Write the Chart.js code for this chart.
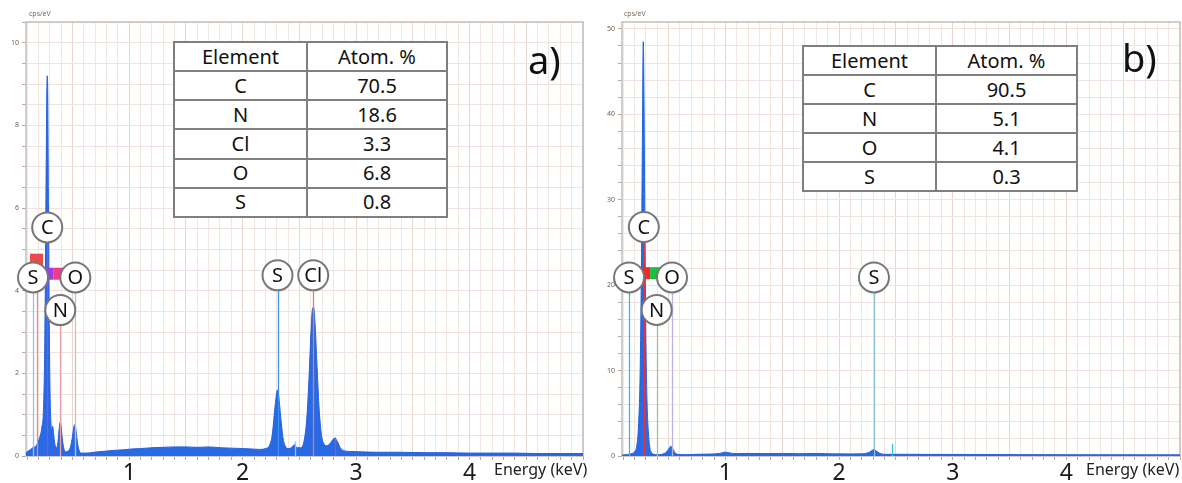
<html>

<head>
  <title>EDS spectra</title>
  <style>
    body { margin: 0; background: #fff; width: 1182px; height: 483px; position: relative; overflow: hidden; font-family: "Noto Sans", "Open Sans", sans-serif; }
    .panel { position: absolute; top: 0; height: 483px; }
    .unit { position: absolute; font-size: 7px; color: #7a6858; }
    .etitle { position: absolute; font-size: 16px; color: #222; white-space: nowrap; }
    .tag { position: absolute; font-size: 38px; line-height: 1; color: #111; }
    table.comp { position: absolute; border-collapse: collapse; background: #fff; font-size: 20px; color: #111; }
    table.comp td { border: 2.5px solid #7f7f7f; text-align: center; padding: 0; line-height: 24px; }
  </style>
</head>

<body>
  <div class="panel" style="left:0;width:590px"><canvas id="chart-a"></canvas></div>
  <div class="panel" style="left:590px;width:592px"><canvas id="chart-b"></canvas></div>

  <div class="unit" style="left:29px;top:9px">cps/eV</div>
  <div class="unit" style="left:624px;top:9px">cps/eV</div>
  <div class="etitle" style="left:494px;top:458px">Energy (keV)</div>
  <div class="etitle" style="left:1086px;top:458px">Energy (keV)</div>
  <div class="tag" style="left:528px;top:40px">a)</div>
  <div class="tag" style="left:1122px;top:38px">b)</div>
  <table class="comp" id="table-a" style="left:173px;top:41px;width:275px;height:177px"></table>
  <table class="comp" id="table-b" style="left:802px;top:45px;width:276px;height:147px"></table>

  <script src="https://cdn.jsdelivr.net/npm/chart.js"></script>
  <script>
    // ---- data (a) ----
    const energyA = [0.09, 0.11, 0.13, 0.15, 0.17, 0.19, 0.21, 0.23, 0.245, 0.255, 0.265, 0.272, 0.277, 0.282, 0.288, 0.295,
      0.303, 0.31, 0.318, 0.325, 0.333, 0.345, 0.36, 0.372, 0.383, 0.392, 0.4, 0.41, 0.422, 0.44, 0.46, 0.48, 0.5, 0.512,
      0.522, 0.532, 0.545, 0.56, 0.58, 0.62, 0.66, 0.72, 0.8, 0.88, 0.95, 1.02, 1.1, 1.2, 1.3, 1.4, 1.5, 1.6, 1.7, 1.8,
      1.9, 2.0, 2.08, 2.15, 2.2, 2.235, 2.26, 2.28, 2.298, 2.307, 2.318, 2.335, 2.355, 2.375, 2.4, 2.43, 2.455, 2.48,
      2.51, 2.54, 2.565, 2.585, 2.602, 2.615, 2.625, 2.638, 2.655, 2.675, 2.695, 2.715, 2.74, 2.77, 2.795, 2.815, 2.835,
      2.86, 2.89, 2.95, 3.05, 3.2, 3.4, 3.6, 3.8, 4.0, 4.2, 4.4, 4.6, 4.8, 5.0];
    const countsA = [0.08, 0.12, 0.16, 0.2, 0.22, 0.3, 0.45, 0.7, 1.2, 2.6, 5.8, 8.4, 9.2, 8.7, 6.0, 3.2,
      1.4, 0.8, 0.62, 0.72, 0.55, 0.28, 0.2, 0.35, 0.68, 0.82, 0.7, 0.42, 0.2, 0.1, 0.12, 0.2, 0.48, 0.7,
      0.76, 0.6, 0.3, 0.12, 0.07, 0.07, 0.08, 0.1, 0.12, 0.14, 0.15, 0.17, 0.18, 0.2, 0.21, 0.22, 0.22, 0.21, 0.22, 0.2,
      0.19, 0.18, 0.17, 0.16, 0.18, 0.25, 0.5, 1.05, 1.5, 1.6, 1.45, 0.95, 0.45, 0.24, 0.18, 0.2, 0.27, 0.2,
      0.2, 0.35, 0.9, 1.9, 3.0, 3.55, 3.6, 3.2, 2.2, 1.1, 0.5, 0.3, 0.25, 0.3, 0.4, 0.43, 0.35,
      0.2, 0.13, 0.11, 0.1, 0.09, 0.09, 0.08, 0.08, 0.07, 0.07, 0.07, 0.06, 0.06, 0.06];

    // ---- data (b) ----
    const energyB = [0.09, 0.12, 0.15, 0.18, 0.2, 0.22, 0.235, 0.25, 0.262, 0.27, 0.277, 0.284, 0.292, 0.3, 0.31, 0.322,
      0.335, 0.35, 0.37, 0.4, 0.44, 0.48, 0.505, 0.52, 0.535, 0.555, 0.58, 0.65, 0.75, 0.85, 0.95, 1.0, 1.04, 1.1, 1.2,
      1.35, 1.5, 1.65, 1.8, 1.95, 2.1, 2.2, 2.26, 2.29, 2.307, 2.325, 2.36, 2.42, 2.6, 2.8, 3.0, 3.3, 3.6, 4.0, 4.4, 4.7, 5.0];
    const countsB = [0.1, 0.15, 0.2, 0.3, 0.5, 1.2, 3.5, 10, 24, 38, 48.5, 41, 26, 14, 6.5, 2.8,
      1.0, 0.4, 0.2, 0.15, 0.2, 0.45, 0.9, 1.15, 0.9, 0.4, 0.2, 0.15, 0.2, 0.22, 0.3, 0.45, 0.35, 0.28, 0.3,
      0.28, 0.3, 0.27, 0.3, 0.25, 0.24, 0.25, 0.4, 0.65, 0.75, 0.6, 0.3, 0.2, 0.2, 0.18, 0.18, 0.17, 0.16, 0.15, 0.15, 0.14, 0.14];

    // axis ranges and tick labels
    const xTickLabels = [1, 2, 3, 4];
    const yLabelStepA = 2, yGridStepA = 0.5, yMaxA = 10.5;
    const yLabelStepB = 10, yGridStepB = 2, yMaxB = 50.8;

    // element lines: name ('' = line only), energy keV, height cps/eV (label or line top), tag height (null = none)
    const lineNamesA = ['S', '', 'C', 'N', 'O', 'S', '', 'Cl', ''];
    const lineEnergyA = [0.152, 0.183, 0.277, 0.392, 0.525, 2.307, 2.464, 2.622, 2.815];
    const lineHeightA = [4.32, 4.8, 5.53, 3.53, 4.32, 4.37, 0.35, 4.37, 0.45];
    const lineTagA = [null, 4.75, 4.41, 4.41, null, null, null, null, null];

    const lineNamesB = ['S', 'C', 'N', 'O', 'S', ''];
    const lineEnergyB = [0.152, 0.282, 0.395, 0.53, 2.307, 2.47];
    const lineHeightB = [20.9, 26.8, 17.1, 20.9, 20.9, 1.4];
    const lineTagB = [null, 21.4, 21.4, null, null, null];

    // composition tables
    const elementsA = ['C', 'N', 'Cl', 'O', 'S'];
    const atomPctA = ['70.5', '18.6', '3.3', '6.8', '0.8'];
    const elementsB = ['C', 'N', 'O', 'S'];
    const atomPctB = ['90.5', '5.1', '4.1', '0.3'];

    // styles
    const lineColorsA = ['#9cc0e4', '#f08a8a', '#8a50e0', '#eaa0ac', '#bccab4', '#3d90ea', '#8cc4ea', '#e67878', '#c0507a'];
    const tagColorsA = [null, '#f04848', '#9a3ee8', '#f03c8c', null, null, null, null, null];
    const lineColorsB = ['#22c2ea', '#e8303c', '#92c892', '#bab2e2', '#86c2d2', '#22c8ea'];
    const tagColorsB = [null, '#ee2a2a', '#18c03c', null, null, null];

    function fillTable(id, els, pcts) {
      const t = document.getElementById(id);
      let html = '<tr><td style="width:131px">Element</td><td>Atom. %</td></tr>';
      els.forEach((e, i) => { html += '<tr><td>' + e + '</td><td>' + pcts[i] + '</td></tr>'; });
      t.innerHTML = html;
    }
    fillTable('table-a', elementsA, atomPctA);
    fillTable('table-b', elementsB, atomPctB);

    function markerPlugin(names, energy, height, tags, colors, tagColors) {
      return {
        id: 'edsMarkers',
        beforeDatasetsDraw(chart) {
          const { ctx, chartArea: a } = chart;
          ctx.save();
          ctx.strokeStyle = '#c6bebb';
          ctx.lineWidth = 1.5;
          ctx.strokeRect(a.left, a.top, a.right - a.left, a.bottom - a.top);
          ctx.restore();
        },
        afterDatasetsDraw(chart) {
          const { ctx, chartArea: a } = chart;
          const x = chart.scales.x, y = chart.scales.y;
          ctx.save();
          ctx.beginPath();
          ctx.rect(a.left, a.top, a.right - a.left, a.bottom - a.top);
          ctx.clip();
          energy.forEach((e, i) => {
            const px = Math.round(x.getPixelForValue(e)) + 0.5;
            ctx.strokeStyle = colors[i];
            ctx.lineWidth = 1.3;
            ctx.beginPath();
            ctx.moveTo(px, y.getPixelForValue(height[i]));
            ctx.lineTo(px, y.getPixelForValue(0));
            ctx.stroke();
          });
          energy.forEach((e, i) => {
            if (tags[i] == null) return;
            const px = x.getPixelForValue(e), py = y.getPixelForValue(tags[i]);
            ctx.fillStyle = tagColors[i];
            ctx.fillRect(px - 6.5, py - 6, 13, 12);
          });
          ctx.restore();
          ctx.save();
          ctx.font = '20px "Noto Sans"';
          ctx.textAlign = 'center';
          ctx.textBaseline = 'middle';
          energy.forEach((e, i) => {
            if (!names[i]) return;
            const px = x.getPixelForValue(e), py = y.getPixelForValue(height[i]);
            ctx.beginPath();
            ctx.arc(px, py, 15, 0, Math.PI * 2);
            ctx.fillStyle = '#fff';
            ctx.fill();
            ctx.strokeStyle = '#777';
            ctx.lineWidth = 2;
            ctx.stroke();
            ctx.fillStyle = '#111';
            ctx.fillText(names[i], px, py + 1);
          });
          ctx.restore();
        }
      };
    }

    function makeChart(id, energy, counts, yMax, yGrid, yLabel, yWidth, padRight, plugin) {
      const pts = energy.map((e, i) => ({ x: e, y: counts[i] }));
      return new Chart(document.getElementById(id), {
        type: 'line',
        data: {
          datasets: [{
            data: pts,
            fill: 'origin',
            backgroundColor: 'rgb(40,106,230)',
            borderColor: 'rgb(34,98,222)',
            borderWidth: 1,
            pointRadius: 0,
            cubicInterpolationMode: 'monotone'
          }]
        },
        options: {
          responsive: true,
          maintainAspectRatio: false,
          animation: false,
          events: [],
          layout: { padding: { top: 22, right: padRight, left: 0, bottom: 0 } },
          plugins: { legend: { display: false }, tooltip: { enabled: false } },
          scales: {
            x: {
              type: 'linear',
              min: 0.09,
              max: 5.0,
              border: { display: false },
              ticks: {
                stepSize: 0.1,
                includeBounds: false,
                autoSkip: false,
                maxRotation: 0,
                padding: 0,
                color: '#1a1a1a',
                font: { size: 23, family: 'Noto Sans' },
                callback: (v) => {
                  const r = Math.round(v);
                  return (Math.abs(v - r) < 1e-6 && xTickLabels.includes(r)) ? String(r) : '';
                }
              },
              grid: {
                color: (c) => {
                  const v = c.tick ? c.tick.value : 0;
                  return Math.abs(v * 2 - Math.round(v * 2)) < 1e-6 ? '#e8d6ce' : '#f2e6e1';
                },
                tickLength: 4,
                tickColor: '#b5aaa5'
              },
              afterFit: (s) => { s.height = 27; }
            },
            y: {
              min: 0,
              max: yMax,
              border: { display: false },
              ticks: {
                stepSize: yGrid,
                includeBounds: false,
                padding: 3,
                color: '#6e5c50',
                font: { size: 7, family: 'Noto Sans' },
                callback: (v) => (Math.abs(v / yLabel - Math.round(v / yLabel)) < 1e-6 ? String(Math.round(v)) : '')
              },
              grid: { color: '#f0e3dd', tickLength: 4, tickColor: '#b5aaa5' },
              afterFit: (s) => { s.width = yWidth; }
            }
          }
        },
        plugins: [plugin]
      });
    }

    makeChart('chart-a', energyA, countsA, yMaxA, yGridStepA, yLabelStepA, 26, 7,
      markerPlugin(lineNamesA, lineEnergyA, lineHeightA, lineTagA, lineColorsA, tagColorsA));
    makeChart('chart-b', energyB, countsB, yMaxB, yGridStepB, yLabelStepB, 32, 2,
      markerPlugin(lineNamesB, lineEnergyB, lineHeightB, lineTagB, lineColorsB, tagColorsB));
  </script>
</body>

</html>
